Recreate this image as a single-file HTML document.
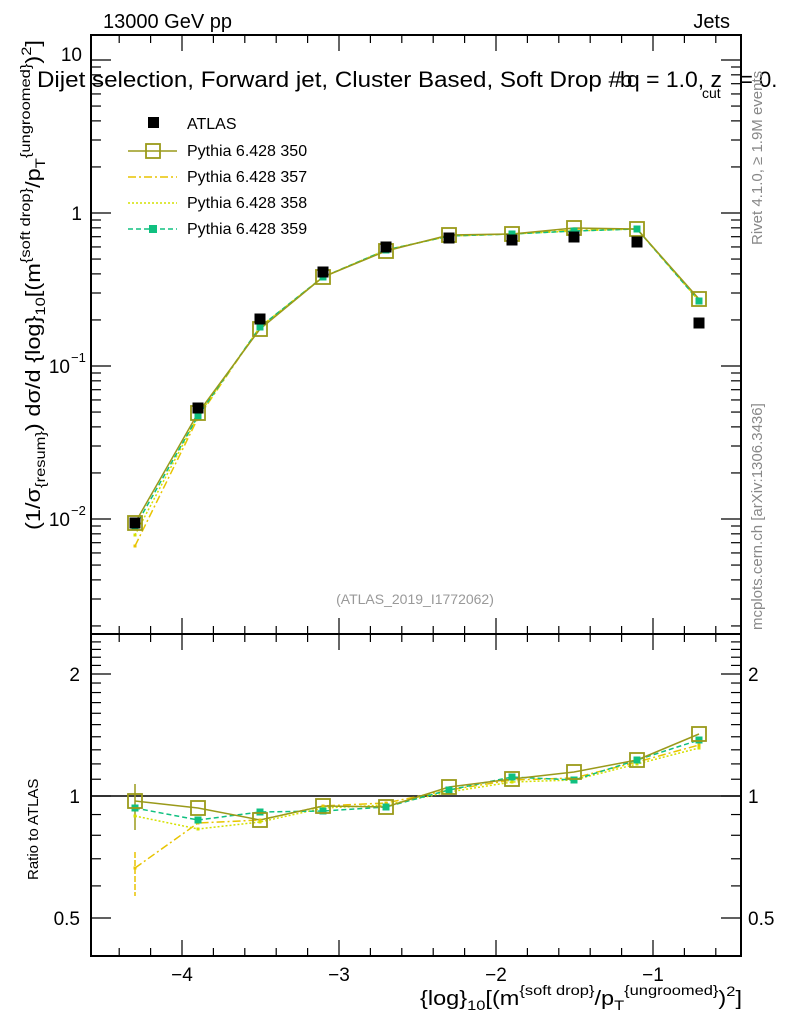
<!DOCTYPE html>
<html><head><meta charset="utf-8"><style>
body{margin:0;background:#fff;width:786px;height:1024px;overflow:hidden}
svg{font-family:"Liberation Sans",sans-serif}
</style></head><body>
<svg id="s" width="786" height="1024" xmlns="http://www.w3.org/2000/svg">
<rect width="786" height="1024" fill="#fff"/>
<g id="g"></g>
<text x="103" y="28" font-size="20">13000 GeV pp</text>
<text x="730" y="28" font-size="20" text-anchor="end">Jets</text>
<text x="37" y="87" font-size="22" textLength="585" lengthAdjust="spacingAndGlyphs">Dijet selection, Forward jet, Cluster Based, Soft Drop #</text>
<text x="620" y="87" font-size="22">b</text>
<text x="627" y="87" font-size="22" textLength="95" lengthAdjust="spacingAndGlyphs">q = 1.0, z</text>
<text x="702" y="98" font-size="14">cut</text>
<text x="740" y="87" font-size="22">= 0.</text>
<text transform="translate(762,245) rotate(-90)" font-size="15" fill="#888">Rivet 4.1.0, ≥ 1.9M events</text>
<text transform="translate(762,630) rotate(-90)" font-size="15" fill="#888">mcplots.cern.ch [arXiv:1306.3436]</text>
<text x="415" y="604" font-size="14" fill="#999" text-anchor="middle">(ATLAS_2019_I1772062)</text>
<text transform="translate(40,530) rotate(-90)" font-size="20" textLength="490" lengthAdjust="spacingAndGlyphs">(1/σ<tspan font-size="14" dy="5">{resum}</tspan><tspan dy="-5">) dσ/d {log}</tspan><tspan font-size="14" dy="5">10</tspan><tspan dy="-5">[(m</tspan><tspan font-size="14" dy="-10">{soft drop}</tspan><tspan dy="10">/p</tspan><tspan font-size="14" dy="5">T</tspan><tspan font-size="14" dy="-15">{ungroomed}</tspan><tspan dy="10">)</tspan><tspan font-size="14" dy="-9">2</tspan><tspan dy="9">]</tspan></text>
<text transform="translate(38,880) rotate(-90)" font-size="15">Ratio to ATLAS</text>
<text x="420" y="1005" font-size="20" textLength="322" lengthAdjust="spacingAndGlyphs">{log}<tspan font-size="14" dy="5">10</tspan><tspan dy="-5">[(m</tspan><tspan font-size="14" dy="-10">{soft drop}</tspan><tspan dy="10">/p</tspan><tspan font-size="14" dy="5">T</tspan><tspan font-size="14" dy="-15">{ungroomed}</tspan><tspan dy="10">)</tspan><tspan font-size="14" dy="-9">2</tspan><tspan dy="9">]</tspan></text>
<rect x="148" y="117" width="11" height="11" fill="#000"/>
<text x="187" y="129" font-size="16">ATLAS</text>
<line x1="128" y1="151" x2="177" y2="151" stroke="#9a9a1a" stroke-width="1.5"/>
<rect x="146" y="144" width="14" height="14" fill="none" stroke="#9a9a1a" stroke-width="1.8"/>
<text x="187" y="156" font-size="16">Pythia 6.428 350</text>
<line x1="128" y1="177" x2="177" y2="177" stroke="#e8c400" stroke-width="1.5" stroke-dasharray="8,3,2,3"/>
<text x="187" y="182" font-size="16">Pythia 6.428 357</text>
<line x1="128" y1="203" x2="177" y2="203" stroke="#d4e000" stroke-width="1.5" stroke-dasharray="2,2"/>
<text x="187" y="208" font-size="16">Pythia 6.428 358</text>
<line x1="128" y1="229" x2="177" y2="229" stroke="#10c080" stroke-width="1.5" stroke-dasharray="5,3"/>
<rect x="149" y="225" width="8" height="8" fill="#10c080"/>
<text x="187" y="234" font-size="16">Pythia 6.428 359</text>
</svg>
<script>
const g=document.getElementById('g');let h='';
const L=91,R=741,T=35,M=634,B=956;
const X=v=>810+157*v;
const Y=v=>213-153*Math.log10(v);
const RY=v=>796-122*Math.log2(v);
h+=`<rect x="${L}" y="${T}" width="${R-L}" height="${M-T}" fill="none" stroke="#000" stroke-width="2"/>`;
h+=`<rect x="${L}" y="${M}" width="${R-L}" height="${B-M}" fill="none" stroke="#000" stroke-width="2"/>`;
for(let v=-4.6;v<=-0.45;v+=0.2){const x=X(v);if(x<L||x>R)continue;const maj=Math.abs(v-Math.round(v))<0.01;const l=maj?16:8;
 for(const[y0,d] of [[T,1],[M,-1],[M,1],[B,-1]])h+=`<line x1="${x}" y1="${y0}" x2="${x}" y2="${y0+d*l}" stroke="#000" stroke-width="1.2"/>`;
 if(maj)h+=`<text x="${x}" y="${B+25}" font-size="19" text-anchor="middle">−${Math.abs(Math.round(v))}</text>`;}
for(let e=-3;e<=1;e++)for(let k=1;k<10;k++){const y=Y(k*Math.pow(10,e));if(y<T||y>M)continue;const l=k==1?20:10;
 h+=`<line x1="${L}" y1="${y}" x2="${L+l}" y2="${y}" stroke="#000" stroke-width="1.2"/><line x1="${R}" y1="${y}" x2="${R-l}" y2="${y}" stroke="#000" stroke-width="1.2"/>`;}
h+=`<text x="82" y="61" font-size="19" text-anchor="end">10</text><text x="82" y="220" font-size="19" text-anchor="end">1</text>`;
h+=`<text x="70" y="373" font-size="19" text-anchor="end">10</text><text x="71" y="362" font-size="13">−1</text>`;
h+=`<text x="70" y="526" font-size="19" text-anchor="end">10</text><text x="71" y="515" font-size="13">−2</text>`;
for(let v=0.4;v<=2.5;v+=0.1){const y=RY(v);if(y<M||y>B)continue;const maj=[0.5,1,2].some(a=>Math.abs(a-v)<0.01);const l=maj?20:10;
 h+=`<line x1="${L}" y1="${y}" x2="${L+l}" y2="${y}" stroke="#000" stroke-width="1.2"/><line x1="${R}" y1="${y}" x2="${R-l}" y2="${y}" stroke="#000" stroke-width="1.2"/>`;}
for(const [v,t] of [[2,'2'],[1,'1'],[0.5,'0.5']]){h+=`<text x="80" y="${RY(v)+7}" font-size="19" text-anchor="end">${t}</text><text x="748" y="${RY(v)+7}" font-size="19">${t}</text>`;}
h+=`<line x1="${L}" y1="796" x2="${R}" y2="796" stroke="#000" stroke-width="1.5"/>`;
const xs=[135,198,260,323,386,449,512,574,637,699];
const atlas=[523,408,319,272,247,238,240,237,242,323];
const s350=[523,413,329,277,251,235,234,228,229,299];
const s357=[546,418,327,277,250,236,234,230,229,300];
const s358=[535,416,327,277,250,236,234,231,229,301];
const s359=[527,416,327,277,250,236,234,231,229,301];
const r350=[801,808,820,806,807,787,779,772,760,734];
const r357=[868,823,820,806,803,790,780,778,762,745];
const r358=[816,829,822,808,805,792,782,780,764,748];
const r359=[808,820,812,811,807,790,777,780,760,740];
const pl=(ys,c,da)=>`<polyline points="${xs.map((x,i)=>x+','+ys[i]).join(' ')}" fill="none" stroke="${c}" stroke-width="1.5" ${da?'stroke-dasharray="'+da+'"':''}/>`;
const sq=(ys,c)=>xs.map((x,i)=>`<rect x="${x-7}" y="${ys[i]-7}" width="14" height="14" fill="none" stroke="${c}" stroke-width="1.8"/>`).join('');
const fs=(ys,c,s)=>xs.map((x,i)=>`<rect x="${x-s/2}" y="${ys[i]-s/2}" width="${s}" height="${s}" fill="${c}"/>`).join('');
h+=pl(s357,'#e8c400','8,3,2,3')+pl(s358,'#d4e000','2,2')+pl(s359,'#10c080','5,3')+pl(s350,'#9a9a1a');
h+=fs(s357,'#e8c400',3)+fs(s358,'#d4e000',3)+fs(s359,'#10c080',7)+sq(s350,'#9a9a1a');
h+=xs.map((x,i)=>`<rect x="${x-5.5}" y="${atlas[i]-5.5}" width="11" height="11" fill="#000"/>`).join('');
h+=`<line x1="135" y1="852" x2="135" y2="896" stroke="#e8c400" stroke-width="1.5" stroke-dasharray="6,2"/><line x1="135" y1="784" x2="135" y2="830" stroke="#9a9a1a" stroke-width="1.5"/>`;
h+=pl(r357,'#e8c400','8,3,2,3')+pl(r358,'#d4e000','2,2')+pl(r359,'#10c080','5,3')+pl(r350,'#9a9a1a');
h+=fs(r357,'#e8c400',3)+fs(r358,'#d4e000',3)+fs(r359,'#10c080',7)+sq(r350,'#9a9a1a');
g.innerHTML=h;
</script>
</body></html>
